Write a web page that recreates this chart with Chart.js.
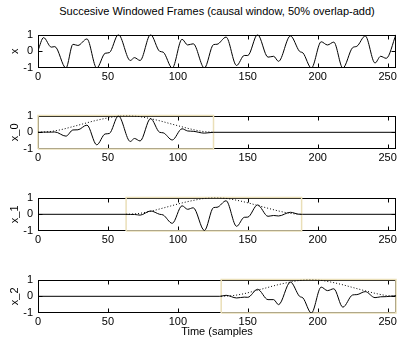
<!DOCTYPE html>
<html>
<head>
<meta charset="utf-8">
<title>Succesive Windowed Frames</title>
<script src="https://cdn.jsdelivr.net/npm/chart.js@4.4.1/dist/chart.umd.min.js"></script>
<style>
    html, body { margin: 0; padding: 0; background: #fff; }
    body {
        width: 399px; height: 339px; position: relative; overflow: hidden;
        font-family: "Liberation Sans", Arial, sans-serif; color: #000;
    }
    .panel { position: absolute; left: 0; width: 399px; height: 61px; }
    #title, #xlabel {
        position: absolute; left: 38px; width: 358px;
        text-align: center; font-size: 11px; white-space: nowrap;
    }
    #title { top: 5px; }
    #xlabel { top: 325px; }
</style>
</head>
<body>
<div id="title">Succesive Windowed Frames (causal window, 50% overlap-add)</div>
<div class="panel" style="top:23px"><canvas id="c-x" width="399" height="61"></canvas></div>
<div class="panel" style="top:104px"><canvas id="c-x0" width="399" height="61"></canvas></div>
<div class="panel" style="top:186px"><canvas id="c-x1" width="399" height="61"></canvas></div>
<div class="panel" style="top:268px"><canvas id="c-x2" width="399" height="61"></canvas></div>
<div id="xlabel">Time (samples</div>

<script>
// input signal x, read at its turning points (sample, value)
const sigN = [0, 4, 9.5, 12, 20, 25, 28.5, 35, 42, 48, 51, 57.5, 66, 69, 73, 80.5, 87, 89.5, 96,
    103, 107, 111, 119, 125.5, 128, 134.5, 142, 147.5, 150, 157, 164.5, 168.5, 172, 180.5, 187,
    189.5, 195.5, 202.5, 207, 211.5, 218, 225, 228, 234, 241, 245, 249, 256];
const sigX = [0.05, 0.82, 0.25, 0.28, -1.0, 0.42, 0.35, 0.74, -1.0, -0.12, -0.08, 1.0, -0.55, -0.38,
    -0.55, 1.0, 0.0, -0.05, -1.0, 0.72, 0.38, 0.45, -1.0, 0.4, 0.42, 0.85, -0.85, -0.25, -0.25, 1.0,
    -0.35, -0.3, -0.6, 0.92, 0.0, -0.1, -1.0, 0.57, 0.38, 0.55, -1.0, 0.22, 0.3, 0.92, -0.7, -0.3,
    -0.42, 1.0];

// windowed frames
const frame0N = [0, 4, 9.5, 12, 20, 25, 28.5, 35, 42, 48, 51, 57.5, 66, 69, 73, 80.5, 87, 89.5, 96,
    103, 107, 111, 119, 125.5, 256];
const frame0V = [0, 0.01, 0.01, 0.02, -0.23, 0.14, 0.15, 0.43, -0.75, -0.10, -0.07, 0.98, -0.55,
    -0.37, -0.52, 0.82, 0.0, -0.03, -0.46, 0.21, 0.08, 0.06, -0.05, 0, 0];

const frame1N = [0, 63, 66, 69, 73, 80.5, 87, 89.5, 96, 103, 107, 111, 119, 125.5, 128, 134.5, 142,
    147.5, 150, 157, 164.5, 168.5, 172, 180.5, 187, 189, 256];
const frame1V = [0, 0, -0.01, -0.01, -0.05, 0.2, 0.0, -0.04, -0.54, 0.51, 0.3, 0.39, -0.97, 0.4,
    0.42, 0.81, -0.72, -0.18, -0.17, 0.56, -0.12, -0.07, -0.1, 0.12, 0, 0, 0];

const frame2N = [0, 130, 134.5, 142, 147.5, 150, 157, 164.5, 168.5, 172, 180.5, 187, 189.5, 195.5,
    202.5, 207, 211.5, 218, 225, 228, 234, 241, 245, 249, 256];
const frame2V = [0, 0, 0.06, -0.1, -0.05, -0.06, 0.42, -0.2, -0.2, -0.5, 0.85, 0.0, -0.1, -1.0,
    0.55, 0.34, 0.45, -0.65, 0.08, 0.1, 0.28, -0.08, -0.03, -0.02, 0.03];

// causal window shape (offset from frame start, gain)
const winRel = [0, 8, 16, 24, 32, 40, 48, 56, 63, 70, 78, 86, 94, 102, 110, 118, 126];
const winVal = [0, 0.04, 0.15, 0.32, 0.50, 0.68, 0.83, 0.95, 1.0, 0.97, 0.86, 0.71, 0.53, 0.35,
    0.18, 0.05, 0];

// frame extents in samples
const frameStart = [0, 63, 131];
const frameEnd = [125.5, 188.5, 256];

const FONT = { family: '"Liberation Sans", Arial, sans-serif', size: 11 };
const BOX_COLOR = '#eadfb8';

/**
 * Zip two value lists into {x, y} points
 */
function toPoints(xs, ys) {
    return xs.map((x, i) => ({ x: x, y: ys[i] }));
}

/**
 * Matlab-like axes: full box + inward tick marks
 */
const matlabAxes = {
    id: 'matlabAxes',
    beforeDatasetsDraw(chart) {
        const { ctx, chartArea: a, scales } = chart;
        const l = Math.round(a.left) + 0.5, r = Math.round(a.right) - 0.5;
        const t = Math.round(a.top) + 0.5, b = Math.round(a.bottom) - 0.5;
        ctx.save();
        ctx.strokeStyle = '#000';
        ctx.lineWidth = 1;
        ctx.strokeRect(l, t, r - l, b - t);
        ctx.beginPath();
        scales.x.ticks.forEach(tk => {
            const px = Math.round(scales.x.getPixelForValue(tk.value)) + 0.5;
            if (px <= l + 1 || px >= r - 1) return;
            ctx.moveTo(px, b); ctx.lineTo(px, b - 4);
            ctx.moveTo(px, t); ctx.lineTo(px, t + 4);
        });
        scales.y.ticks.forEach(tk => {
            const py = Math.round(scales.y.getPixelForValue(tk.value)) + 0.5;
            if (py <= t + 1 || py >= b - 1) return;
            ctx.moveTo(l, py); ctx.lineTo(l + 4, py);
            ctx.moveTo(r, py); ctx.lineTo(r - 4, py);
        });
        ctx.stroke();
        ctx.restore();
    }
};

/**
 * Build one subplot
 */
function makePanel(id, label, sigPts, k) {
    const datasets = [{
        data: sigPts,
        borderColor: '#000',
        borderWidth: 1,
        cubicInterpolationMode: 'monotone'
    }];

    if (k !== undefined) {
        datasets.push({
            data: winRel.map((r, i) => ({ x: frameStart[k] + r, y: winVal[i] })),
            borderColor: '#000',
            borderWidth: 1,
            borderDash: [1, 2],
            cubicInterpolationMode: 'monotone'
        });
        const s = frameStart[k], e = frameEnd[k];
        datasets.push({
            data: [{ x: s, y: -1 }, { x: s, y: 1 }, { x: e, y: 1 }, { x: e, y: -1 }, { x: s, y: -1 }],
            borderColor: BOX_COLOR,
            borderWidth: 1.5,
            tension: 0,
            clip: false
        });
    }

    return new Chart(document.getElementById(id), {
        type: 'line',
        data: { datasets: datasets },
        options: {
            responsive: false,
            animation: false,
            events: [],
            layout: { padding: { top: 6, right: 3, left: 0, bottom: 0 } },
            elements: { point: { radius: 0 } },
            plugins: { legend: { display: false }, tooltip: { enabled: false } },
            scales: {
                x: {
                    type: 'linear',
                    min: 0,
                    max: 256,
                    grid: { display: false, drawTicks: false },
                    border: { display: false },
                    ticks: {
                        stepSize: 50,
                        includeBounds: false,
                        autoSkip: false,
                        maxRotation: 0,
                        padding: 2,
                        color: '#000',
                        font: FONT
                    },
                    afterFit: s => { s.height = 16; }
                },
                y: {
                    min: -1,
                    max: 1,
                    grid: { display: false, drawTicks: false },
                    border: { display: false },
                    ticks: { stepSize: 1, padding: 5, color: '#000', font: FONT },
                    title: { display: true, text: label, color: '#000', font: FONT, padding: { top: 8, bottom: 0 } },
                    afterFit: s => { s.width = 38; }
                }
            }
        },
        plugins: [matlabAxes]
    });
}

makePanel('c-x', 'x', toPoints(sigN, sigX));
makePanel('c-x0', 'x_0', toPoints(frame0N, frame0V), 0);
makePanel('c-x1', 'x_1', toPoints(frame1N, frame1V), 1);
makePanel('c-x2', 'x_2', toPoints(frame2N, frame2V), 2);
</script>
</body>
</html>
